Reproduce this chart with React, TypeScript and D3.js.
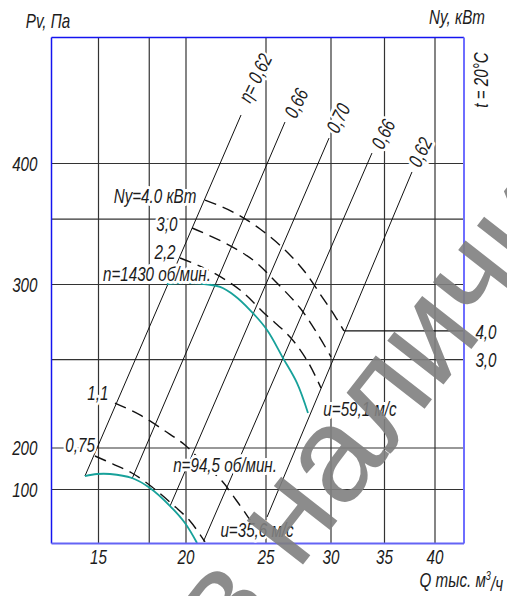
import React from "react";
import * as d3 from "d3";

// axes (Q in thousand m3/h, Pv in Pa) - the printed grid is not a regular scale,
// so both scales are piecewise through the labelled grid lines
const qDomain = [12.5, 15, 20, 25, 30, 35, 40, 43];
const pDomain = [50, 100, 200, 300, 400, 500];
const qTicks = [15, 20, 25, 30, 35, 40];
const pTicks = [100, 200, 300, 400];
const qGrid = [15, 17.9, 20, 25, 30, 35, 40];
const pGrid = [100, 200, 254, 300, 354, 400];

type Pt = [number, number];

// fan curves Pv(Q)
const curve1430: Pt[] = [
  [18.91, 300.4], [19.94, 301.2], [20.88, 300.8], [22.13, 298.5], [23.06, 293.0],
  [24.0, 284.4], [25.08, 272.2], [26.31, 255.0], [27.38, 239.8], [28.23, 221.4],
];
const curve945: Pt[] = [
  [14.28, 132.5], [14.92, 137.3], [15.66, 137.3], [16.91, 127.7], [17.94, 103.6],
  [19.09, 84.7], [19.94, 69.0], [20.69, 50.5],
];

// motor power lines Ny
const power40: Pt[] = [
  [21.19, 369.8], [22.94, 359.9], [24.63, 345.9], [26.46, 328.5], [28.0, 310.3],
  [29.31, 292.4], [30.37, 280.7], [31.21, 271.6],
];
const power30: Pt[] = [
  [20.38, 346.7], [22.44, 334.3], [24.19, 320.2], [25.69, 302.9], [27.62, 285.6],
  [28.92, 270.3], [30.0, 255.7],
];
const power22: Pt[] = [
  [19.66, 321.9], [21.5, 311.2], [23.38, 296.6], [24.94, 282.0], [26.85, 267.9],
  [28.23, 252.6], [29.23, 236.7],
];
const power11: Pt[] = [
  [15.94, 227.5], [17.37, 220.2], [18.8, 210.4], [19.94, 201.8], [21.19, 159.0],
  [22.25, 120.5], [23.13, 90.3], [23.88, 74.5], [24.25, 66.2],
];
const power075: Pt[] = [
  [14.81, 180.7], [15.83, 161.4], [16.91, 139.8], [18.06, 106.0], [19.2, 86.6],
  [20.25, 70.8], [21.19, 51.4],
];
const leader40: Pt[] = [[31.21, 271.6], [43, 271.6]];

// efficiency lines
const effLabels = ["η= 0,62", "0,66", "0,70", "0,66", "0,62"];
const effFrom: Pt[] = [[14.28, 132.5], [16.91, 125.3], [19.09, 84.7], [21.09, 51.9], [25.08, 74.5]];
const effTo: Pt[] = [[23.44, 438.5], [26.46, 432.9], [29.85, 420.2], [33.83, 408.3], [37.72, 393.0]];
const effLabelAt: Pt[] = [[24.31, 467.9], [27.31, 448.0], [30.65, 436.1], [34.86, 423.4], [38.51, 409.1]];

// other captions
const noteText = [
  "Ny=4.0 кВт", "3,0", "2,2", "n=1430 об/мин.", "1,1", "0,75",
  "n=94,5 об/мин.", "u=35,6 м/с", "u=59,1 м/с", "4,0", "3,0",
];
const noteAt: Pt[] = [
  [18.23, 373.1], [18.91, 350.0], [18.8, 326.9], [18.34, 308.7], [14.97, 233.6], [14.02, 201.8],
  [22.44, 159.0], [24.44, 62.5], [32.71, 223.9], [45.27, 270.9], [45.27, 253.8],
];

const W = 507;
const H = 596;
const FONT = "'Liberation Sans', Arial, sans-serif";
const INK = "#1c1c1c";

function Label({ x, y, text, rot = 0, anchor = "middle", halo = true, size = 20 }: any) {
  return (
    <text
      transform={`translate(${x},${y}) rotate(${rot}) scale(0.76,1)`}
      textAnchor={anchor}
      dy="0.36em"
      fontSize={size}
      fontStyle="italic"
      fontFamily={FONT}
      fill={INK}
      stroke={halo ? "#fff" : "none"}
      strokeWidth={halo ? 6 : 0}
      strokeLinejoin="round"
      paintOrder="stroke"
    >
      {text}
    </text>
  );
}

export default function App() {
  const x = d3.scaleLinear().domain(qDomain).range([51.5, 98.5, 186, 266, 331, 384.5, 435, 464]);
  const y = d3.scaleLinear().domain(pDomain).range([543.5, 489.5, 448, 284.5, 163.5, 37.5]);
  const x0 = x(qDomain[0]);
  const x1 = x(qDomain[qDomain.length - 1]);
  const y0 = y(pDomain[0]);
  const y1 = y(pDomain[pDomain.length - 1]);

  const smooth = d3
    .line<Pt>()
    .x((d) => x(d[0]))
    .y((d) => y(d[1]))
    .curve(d3.curveCatmullRom.alpha(0.5));
  const straight = d3.line<Pt>().x((d) => x(d[0])).y((d) => y(d[1]));

  const dashed = [power40, power30, power22, power11, power075];

  return (
    <svg
      width={W}
      height={H}
      style={{ position: "absolute", left: 0, top: 0, background: "#fff" }}
    >
      {/* grid */}
      {qGrid.map((q) => (
        <line key={"v" + q} x1={x(q)} x2={x(q)} y1={y1} y2={y0} stroke="#333" strokeWidth={1.2} />
      ))}
      {pGrid.map((p) => (
        <line key={"h" + p} x1={x0} x2={x1} y1={y(p)} y2={y(p)} stroke="#333" strokeWidth={1.2} />
      ))}

      {/* efficiency lines */}
      {effFrom.map((f, i) => (
        <path key={"e" + i} d={straight([f, effTo[i]]) as string} fill="none" stroke="#111" strokeWidth={1} />
      ))}

      {/* power lines */}
      {dashed.map((pts, i) => (
        <path
          key={"n" + i}
          d={smooth(pts) as string}
          fill="none"
          stroke="#111"
          strokeWidth={1.4}
          strokeDasharray="12,7"
        />
      ))}
      <path d={straight(leader40) as string} fill="none" stroke="#111" strokeWidth={1.2} />

      {/* fan curves */}
      {[curve1430, curve945].map((pts, i) => (
        <path key={"c" + i} d={smooth(pts) as string} fill="none" stroke="#17a19a" strokeWidth={1.8} />
      ))}

      {/* frame */}
      <line x1={x0} x2={x1} y1={y1} y2={y1} stroke="#1414f0" strokeWidth={1.5} />
      <line x1={x0} x2={x0} y1={y1} y2={y0} stroke="#1414f0" strokeWidth={1.5} />
      <line x1={x1} x2={x1} y1={y1} y2={y0} stroke="#6e6eff" strokeWidth={2} />
      <line x1={x0} x2={x1} y1={y0} y2={y0} stroke="#6464f5" strokeWidth={2.2} />

      {/* labels */}
      {effLabels.map((t, i) => (
        <Label key={"el" + i} x={x(effLabelAt[i][0])} y={y(effLabelAt[i][1])} text={t} rot={-64} />
      ))}
      {noteText.map((t, i) => (
        <Label key={"nl" + i} x={x(noteAt[i][0])} y={y(noteAt[i][1])} text={t} />
      ))}

      {qTicks.map((q) => (
        <Label key={"xt" + q} x={x(q)} y={y0 + 13} text={q} halo={false} />
      ))}
      {pTicks.map((p) => (
        <Label key={"yt" + p} x={x0 - 14} y={y(p)} text={p} anchor="end" halo={false} />
      ))}

      <Label x={48} y={21} text="Pv, Па" halo={false} />
      <Label x={457} y={17} text="Ny, кВт" halo={false} />
      <Label x={481} y={80} text="t = 20°C" rot={-90} halo={false} />
      <text
        transform={`translate(${x1 + 39},${y0 + 36}) scale(0.76,1)`}
        textAnchor="end"
        dy="0.36em"
        fontSize={20}
        fontStyle="italic"
        fontFamily={FONT}
        fill={INK}
      >
        Q тыс. м
        <tspan dy="-0.55em" fontSize={12}>3</tspan>
        <tspan dy="0.55em">/ч</tspan>
      </text>

      {/* watermark */}
      <text
        transform="translate(230,658) rotate(-52)"
        fontSize={135}
        fontFamily={FONT}
        fill="#808080"
        opacity={0.9}
      >
        в наличии
      </text>
    </svg>
  );
}
